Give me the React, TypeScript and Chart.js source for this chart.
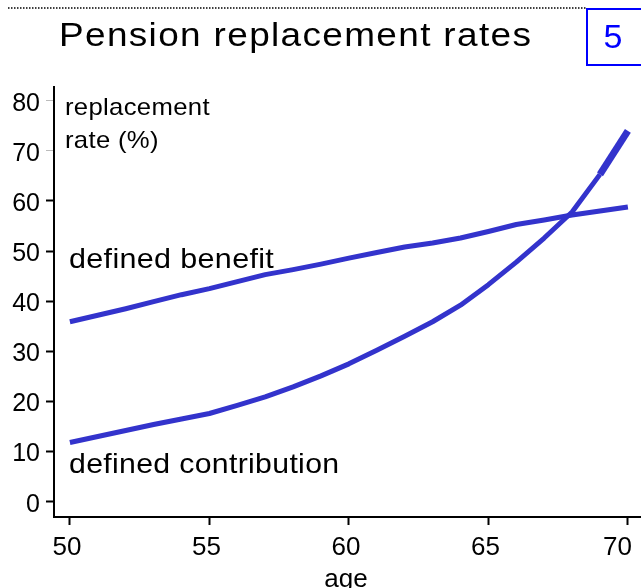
import React, { useEffect, useRef } from "react";
import { Chart, registerables } from "chart.js";

Chart.register(...registerables);

const ages = [50, 51, 52, 53, 54, 55, 56, 57, 58, 59, 60, 61, 62, 63, 64, 65, 66, 67, 68, 69, 70];
const definedBenefit = [35.9, 37.2, 38.5, 39.9, 41.3, 42.5, 43.9, 45.3, 46.3, 47.4, 48.6, 49.7, 50.8, 51.6, 52.6, 53.9, 55.3, 56.2, 57.2, 58.0, 58.8];
const definedContribution = [11.8, 13.0, 14.2, 15.4, 16.5, 17.6, 19.2, 20.9, 22.9, 25.1, 27.5, 30.2, 33.0, 35.9, 39.2, 43.3, 47.8, 52.6, 57.8, 65.3, 74.0];
const xTicks = [50, 55, 60, 65, 70];
const yTicks = [0, 10, 20, 30, 40, 50, 60, 70, 80];

const titleText = "Pension replacement rates";
const boxText = "5";
const xTitle = "age";
const yTitleLines = ["replacement", "rate (%)"];
const labelBenefit = "defined benefit";
const labelContribution = "defined contribution";

const FONT = '"Liberation Sans", Arial, Helvetica, sans-serif';
const LINE = "#3333cc";

function stretchText(ctx: CanvasRenderingContext2D, text: string, x: number, y: number, sx: number) {
  ctx.save();
  ctx.translate(x, y);
  ctx.scale(sx, 1);
  ctx.fillText(text, 0, 0);
  ctx.restore();
}

export default function App() {
  const ref = useRef<HTMLCanvasElement | null>(null);

  useEffect(() => {
    const canvas = ref.current;
    if (!canvas) return;

    const overlay = {
      id: "overlay",
      afterDraw(chart: any) {
        const ctx = chart.ctx as CanvasRenderingContext2D;
        const xs = chart.scales.x;
        ctx.save();
        // dotted rule at top
        ctx.strokeStyle = "#000";
        ctx.lineWidth = 1.5;
        ctx.setLineDash([1.5, 1.5]);
        ctx.beginPath();
        ctx.moveTo(8, 8);
        ctx.lineTo(586, 8);
        ctx.stroke();
        ctx.setLineDash([]);
        // number box
        ctx.strokeStyle = "#0000ff";
        ctx.lineWidth = 2;
        ctx.strokeRect(587, 9, 80, 56);
        ctx.fillStyle = "#0000ff";
        ctx.font = `34px ${FONT}`;
        ctx.textAlign = "center";
        ctx.textBaseline = "alphabetic";
        ctx.fillText(boxText, 613, 48);
        // title
        ctx.fillStyle = "#000";
        ctx.textAlign = "left";
        ctx.font = `33px ${FONT}`;
        (ctx as any).letterSpacing = "1.2px";
        stretchText(ctx, titleText, 59, 46, 1.12);
        // y title inside plot
        ctx.font = `24px ${FONT}`;
        (ctx as any).letterSpacing = "0.3px";
        stretchText(ctx, yTitleLines[0], 65, 115, 1.07);
        stretchText(ctx, yTitleLines[1], 65, 148, 1.07);
        // series labels
        ctx.font = `28px ${FONT}`;
        (ctx as any).letterSpacing = "0.3px";
        stretchText(ctx, labelBenefit, 69, 268, 1.09);
        stretchText(ctx, labelContribution, 69, 473, 1.08);
        // x tick labels
        (ctx as any).letterSpacing = "0px";
        ctx.font = `26px ${FONT}`;
        ctx.textAlign = "center";
        xTicks.forEach((v) => {
          const w = ctx.measureText(String(v)).width;
          let px = xs.getPixelForValue(v) - 3;
          if (px + w / 2 > 632) px = 632 - w / 2;
          ctx.fillText(String(v), px, 555);
        });
        // x title
        ctx.fillText(xTitle, 346, 587);
        ctx.restore();
      },
    };

    const chart = new Chart(canvas, {
      type: "line",
      data: {
        datasets: [
          {
            label: labelBenefit,
            data: ages.map((a, i) => ({ x: a, y: definedBenefit[i] })),
            borderColor: LINE,
            borderWidth: 5,
            borderCapStyle: "butt",
            borderJoinStyle: "round",
            pointRadius: 0,
            tension: 0,
            fill: false,
          },
          {
            label: labelContribution,
            data: ages.map((a, i) => ({ x: a, y: definedContribution[i] })),
            borderColor: LINE,
            borderWidth: 5,
            borderCapStyle: "butt",
            borderJoinStyle: "round",
            pointRadius: 0,
            tension: 0,
            fill: false,
            segment: {
              borderWidth: (c: any) => (c.p0DataIndex >= 19 ? 7 : 5),
            },
          },
        ],
      },
      options: {
        responsive: false,
        animation: false,
        layout: { padding: { top: 87, left: 0, right: 0, bottom: 0 } },
        plugins: {
          legend: { display: false },
          tooltip: { enabled: false },
          title: { display: false },
        },
        scales: {
          x: {
            type: "linear",
            min: 49.43,
            max: 70.47,
            afterBuildTicks: (s: any) => {
              s.ticks = xTicks.map((v) => ({ value: v }));
            },
            afterFit: (s: any) => {
              s.height = 71;
            },
            grid: {
              drawOnChartArea: false,
              drawTicks: true,
              tickLength: 8,
              tickColor: "#000",
              tickWidth: 2,
            },
            border: { display: true, color: "#000", width: 2 },
            ticks: { display: false },
          },
          y: {
            type: "linear",
            min: -3.05,
            max: 82.73,
            afterBuildTicks: (s: any) => {
              s.ticks = yTicks.map((v) => ({ value: v }));
            },
            afterFit: (s: any) => {
              s.width = 54;
            },
            grid: {
              drawOnChartArea: false,
              drawTicks: true,
              tickLength: 8,
              tickColor: (c: any) => (c.tick && c.tick.value >= 70 ? "#bbbbbb" : "#000"),
              tickWidth: (c: any) => (c.tick && c.tick.value >= 70 ? 1 : 2),
            },
            border: { display: true, color: "#000", width: 2 },
            ticks: {
              autoSkip: false,
              padding: 6,
              labelOffset: 3,
              color: "#000",
              font: { family: FONT, size: 25 },
            },
          },
        },
      },
      plugins: [overlay],
    } as any);

    return () => chart.destroy();
  }, []);

  return (
    <div style={{ position: "absolute", left: 0, top: 0, width: 641, height: 588, background: "#fff" }}>
      <canvas ref={ref} width={641} height={588} style={{ display: "block" }} />
    </div>
  );
}
